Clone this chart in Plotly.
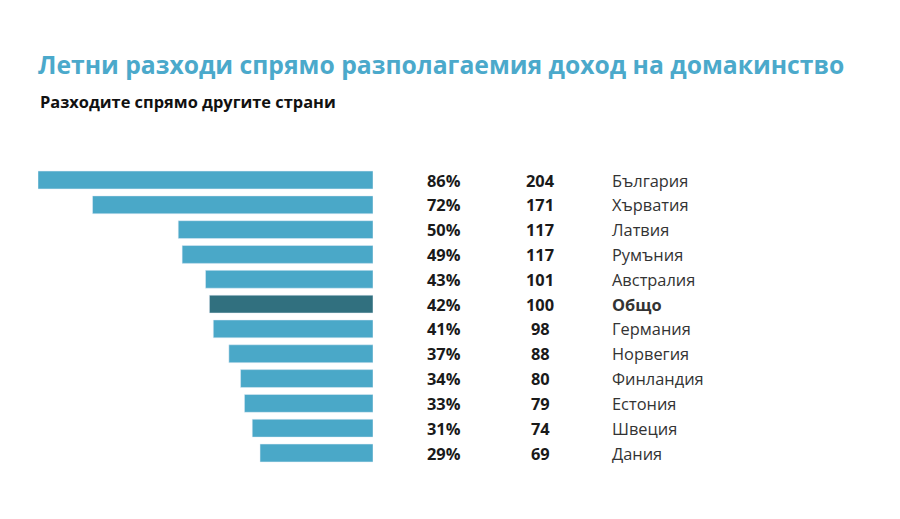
import plotly.graph_objects as go

countries = ["България", "Хърватия", "Латвия", "Румъния", "Австралия", "Общо",
             "Германия", "Норвегия", "Финландия", "Естония", "Швеция", "Дания"]
shares = [86, 72, 50, 49, 43, 42, 41, 37, 34, 33, 31, 29]
index_vals = [204, 171, 117, 117, 101, 100, 98, 88, 80, 79, 74, 69]
highlight = "Общо"

W, H = 900, 519
blue = "#4aa8c8"
dark = "#31707f"
font = "Open Sans"

colors = [dark if c == highlight else blue for c in countries]

fig = go.Figure()
fig.add_trace(go.Bar(
    x=shares, y=countries, orientation="h",
    marker_color=colors, width=0.72, hoverinfo="skip"
))

# text columns next to the bars
for c, s, v in zip(countries, shares, index_vals):
    fig.add_annotation(x=455 / W, xref="paper", y=c, yref="y", text=f"<b>{s}%</b>",
                       showarrow=False, xanchor="right", font=dict(size=16.4, color="#1a1a1a"))
    fig.add_annotation(x=532 / W, xref="paper", y=c, yref="y", text=f"<b>{v}</b>",
                       showarrow=False, xanchor="center", font=dict(size=16.4, color="#1a1a1a"))
    label = f"<b>{c}</b>" if c == highlight else c
    fig.add_annotation(x=602 / W, xref="paper", y=c, yref="y", text=label,
                       showarrow=False, xanchor="left", font=dict(size=16.4, color="#333333"))

fig.add_annotation(x=30 / W, xref="paper", y=1 - 94 / H, yref="paper",
                   text="<b>Разходите спрямо другите страни</b>", showarrow=False,
                   xanchor="left", yanchor="middle", font=dict(size=16.4, color="#111111"))

fig.update_layout(
    width=W, height=H,
    margin=dict(l=0, r=0, t=0, b=0),
    paper_bgcolor="white", plot_bgcolor="white",
    font=dict(family=font),
    showlegend=False,
    title=dict(text="<b>Летни разходи спрямо разполагаемия доход на домакинство</b>",
               x=30 / W, xanchor="left", y=1 - 57 / H, yanchor="middle",
               font=dict(size=24.7, color="#4ba9cb", family=font)),
    xaxis=dict(domain=[30 / W, 365 / W], range=[86, 0], visible=False, fixedrange=True),
    yaxis=dict(domain=[1 - 458.5 / H, 1 - 158.5 / H], autorange="reversed",
               visible=False, fixedrange=True),
    bargap=0.28,
)

fig.write_html("out.html")
